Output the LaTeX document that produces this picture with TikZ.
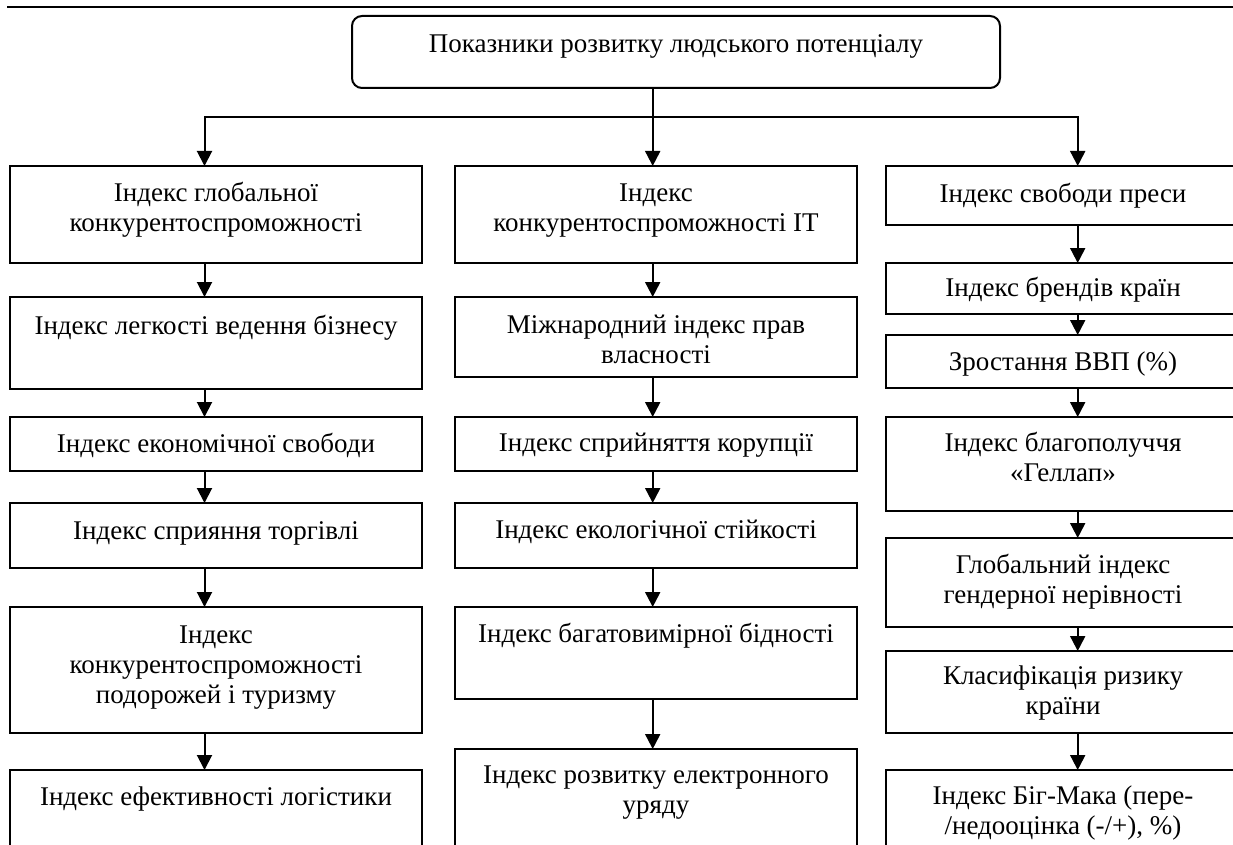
\documentclass[tikz,border=0pt]{standalone}
\usepackage{fontspec}
\setmainfont{Liberation Serif}
\usetikzlibrary{arrows.meta}
\tikzset{
  bx/.style={draw, line width=2pt, inner sep=0pt, outer sep=0pt, anchor=north west},
  arr/.style={line width=2pt, -{Triangle[length=15pt,width=15pt]}},
  rule/.style={line width=2pt}
}
% [#1] extra style, #2 name, #3 x1, #4 y1, #5 x2, #6 y2, #7 first-baseline offset, #8 text
\newcommand\mkbox[8][]{%
  \pgfmathsetmacro\bw{#5-#3}%
  \pgfmathsetmacro\bh{#6-#4}%
  \node[bx,#1] (#2) at (#3,#4) {\parbox[c][\bh pt][t]{\bw pt}{\fontsize{27}{30}\selectfont\centering\rule{0pt}{#7pt}#8}};%
}
\begin{document}
\begin{tikzpicture}[x=1pt,y=-1pt]
\useasboundingbox (0,0) rectangle (1233,845);
\fill[white] (0,0) rectangle (1233,845);
\clip (0,0) rectangle (1233,845);

\draw[rule] (7,7) -- (1233,7);

% root
\mkbox[rounded corners=10pt]{root}{352}{16}{1000}{88}{37}{Показники розвитку людського потенціалу}

% left column
\mkbox{L1}{10}{166}{422}{263}{35.5}{Індекс глобальної\\конкурентоспроможності}
\mkbox{L2}{10}{297}{422}{389}{37}{Індекс легкості ведення бізнесу}
\mkbox{L3}{10}{417}{422}{471}{35}{Індекс економічної свободи}
\mkbox{L4}{10}{503}{422}{568}{36}{Індекс сприяння торгівлі}
\mkbox{L5}{10}{607}{422}{733}{36}{Індекс\\конкурентоспроможності\\подорожей і туризму}
\mkbox{L6}{10}{770}{422}{890}{35}{Індекс ефективності логістики}

% middle column
\mkbox{M1}{455}{166}{857}{263}{35.5}{Індекс\\конкурентоспроможності IT}
\mkbox{M2}{455}{297}{857}{377}{36}{Міжнародний індекс прав\\власності}
\mkbox{M3}{455}{417}{857}{471}{34}{Індекс сприйняття корупції}
\mkbox{M4}{455}{503}{857}{568}{35}{Індекс екологічної стійкості}
\mkbox{M5}{455}{607}{857}{699}{35}{Індекс багатовимірної бідності}
\mkbox{M6}{455}{749}{857}{890}{34}{Індекс розвитку електронного\\уряду}

% right column
\mkbox{R1}{886}{166}{1240}{225}{36.5}{Індекс свободи преси}
\mkbox{R2}{886}{263}{1240}{314}{33.5}{Індекс брендів країн}
\mkbox{R3}{886}{335}{1240}{388}{35.5}{Зростання ВВП (\%)}
\mkbox{R4}{886}{417}{1240}{511}{34}{Індекс благополуччя\\«Геллап»}
\mkbox{R5}{886}{538}{1240}{627}{35}{Глобальний індекс\\гендерної нерівності}
\mkbox{R6}{886}{651}{1240}{733}{33.5}{Класифікація ризику\\країни}
\mkbox{R7}{886}{770}{1240}{890}{34.5}{Індекс Біг-Мака (пере-\\/недооцінка (-/+), \%)}

% connector columns
\coordinate (cL) at (204.5,117);
\coordinate (cM) at (652.7,117);
\coordinate (cR) at (1077.7,117);

\draw[arr] (root.south -| cM) -- (M1.north -| cM);
\draw[arr] (cM) -| (L1.north -| cL);
\draw[arr] (cM) -| (R1.north -| cR);

\foreach \a/\b in {L1/L2,L2/L3,L3/L4,L4/L5,L5/L6}
  \draw[arr] (\a.south -| cL) -- (\b.north -| cL);
\foreach \a/\b in {M1/M2,M2/M3,M3/M4,M4/M5,M5/M6}
  \draw[arr] (\a.south -| cM) -- (\b.north -| cM);
\foreach \a/\b in {R1/R2,R2/R3,R3/R4,R4/R5,R5/R6,R6/R7}
  \draw[arr] (\a.south -| cR) -- (\b.north -| cR);
\end{tikzpicture}
\end{document}
